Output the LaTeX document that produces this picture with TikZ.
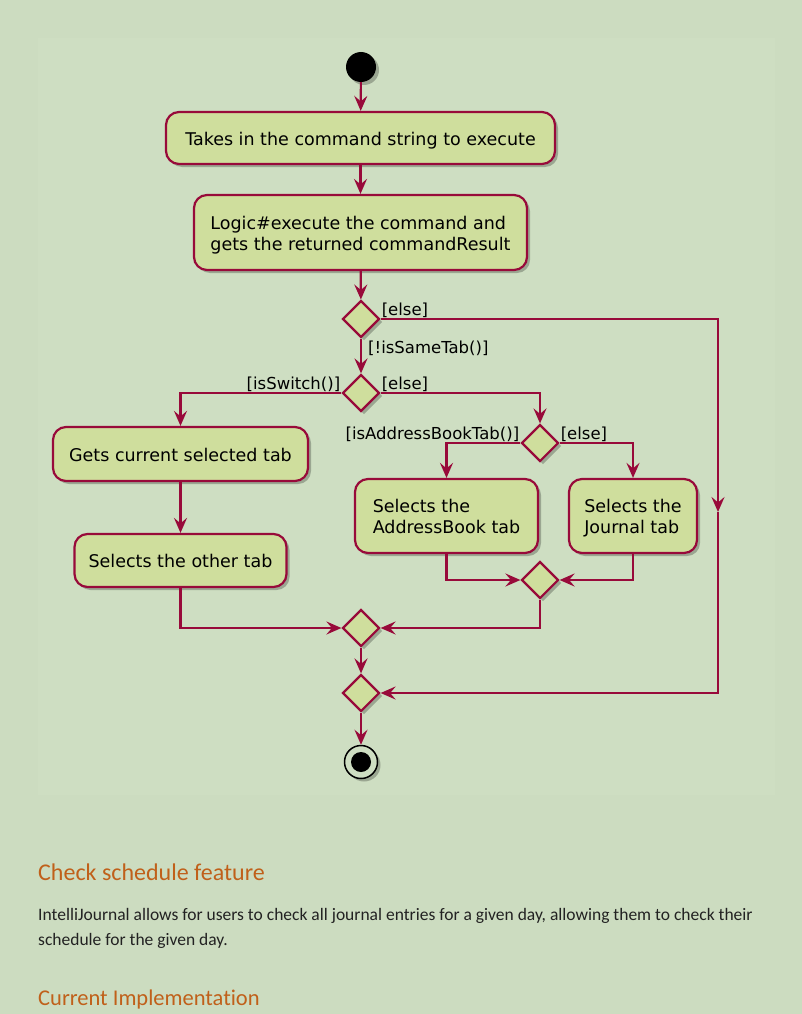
\documentclass[tikz,border=0pt]{standalone}
\usepackage{fontspec}
\setmainfont{DejaVu Sans}
\newfontfamily\docfont[Ligatures=NoCommon]{Carlito}
\usepackage{tikz}
\usetikzlibrary{positioning,shapes.geometric,shadows,arrows.meta,calc}
\definecolor{pagebg}{HTML}{CCDCC0}
\definecolor{panelbg}{HTML}{CEDEC2}
\definecolor{umlred}{HTML}{980A3A}
\definecolor{umlfill}{HTML}{CFDE9D}
\definecolor{headorange}{HTML}{C0601A}
\definecolor{bodytext}{HTML}{222222}
\newcommand{\acttext}[1]{\raisebox{-3pt}[\height][\depth]{\begin{tabular}{@{}l@{}}#1\end{tabular}}}
\tikzset{
	umlshadow/.style={drop shadow={shadow xshift=3pt,shadow yshift=-3pt,fill=black,opacity=0.25}},
	act/.style={draw=umlred, fill=umlfill, line width=2.2pt, rounded corners=13pt,
		font=\fontsize{17.5}{22}\selectfont, umlshadow, inner sep=0pt},
	choice/.style={diamond, draw=umlred, fill=umlfill, line width=2.2pt, aspect=1,
		minimum width=37pt, minimum height=37pt, inner sep=0pt, umlshadow},
	flow/.style={draw=umlred, line width=2.2pt, -{Stealth[length=15pt,width=13pt,inset=5.5pt]}},
	guard/.style={font=\fontsize{16.5}{18}\selectfont, inner sep=1pt, text=black}
}
\begin{document}
\begin{tikzpicture}[x=1pt, y=-1pt]
	\useasboundingbox (0,0) rectangle (802,1014);
	\fill[pagebg] (0,0) rectangle (802,1014);
	\fill[panelbg] (38,38) rectangle (775,795);
	% activity diagram
	\node[circle, fill=black, minimum size=30pt, inner sep=0pt, umlshadow] (start) at (361,67) {};
	\node[act, minimum width=389pt, minimum height=52pt] (takes) at (360.5,138) {\acttext{Takes in the command string to execute}};
	\node[act, minimum width=333pt, minimum height=75pt] (logic) at (360.5,232.5) {\acttext{Logic\#execute the command and\\[-1pt]gets the returned commandResult}};
	\node[choice] (sametab) at (361,319) {};
	\node[choice] (isswitch) at (361,393) {};
	\node[choice] (isaddr) at (540,443) {};
	\node[act, minimum width=255pt, minimum height=54pt] (getcur) at (180.5,454) {\acttext{Gets current selected tab}};
	\node[act, minimum width=212pt, minimum height=53pt] (selother) at (180.5,560.5) {\acttext{Selects the other tab}};
	\node[act, minimum width=183pt, minimum height=74pt] (seladdr) at (446.5,516) {\acttext{Selects the\\[-1pt]AddressBook tab}};
	\node[act, minimum width=128pt, minimum height=74pt] (seljour) at (633,516) {\acttext{Selects the\\[-1pt]Journal tab}};
	\node[choice] (mergetab) at (540,580) {};
	\node[choice] (mergeswitch) at (361,628) {};
	\node[choice] (mergeall) at (361,693) {};
	\node[circle, draw=black, line width=1.5pt, fill=panelbg, minimum size=33pt, inner sep=0pt, umlshadow] (stop) at (361,762) {};
	\fill[black] (stop) circle (10pt);
	\coordinate (elsedown) at (718,512);
	\draw[flow] (start) -- (takes);
	\draw[flow] (takes) -- (logic);
	\draw[flow] (logic) -- (sametab);
	\draw[flow] (sametab.east) -| (elsedown);
	\draw[flow] (elsedown) |- (mergeall.east);
	\draw[flow] (sametab) -- (isswitch);
	\draw[flow] (isswitch.west) -| (getcur.north);
	\draw[flow] (isswitch.east) -| (isaddr.north);
	\draw[flow] (isaddr.west) -| (seladdr.north);
	\draw[flow] (isaddr.east) -| (seljour.north);
	\draw[flow] (getcur) -- (selother);
	\draw[flow] (seladdr.south) |- (mergetab.west);
	\draw[flow] (seljour.south) |- (mergetab.east);
	\draw[flow] (selother.south) |- (mergeswitch.west);
	\draw[flow] (mergetab.south) |- (mergeswitch.east);
	\draw[flow] (mergeswitch) -- (mergeall);
	\draw[flow] (mergeall) -- (stop);
	\node[guard, anchor=south west] (g1) at (sametab.east) {[else]};
	\node[guard, anchor=west] (g2) at (367,348) {[!isSameTab()]};
	\node[guard, anchor=south east] (g3) at (isswitch.west) {[isSwitch()]};
	\node[guard, anchor=south west] (g4) at (isswitch.east) {[else]};
	\node[guard, anchor=south east] (g5) at (isaddr.west) {[isAddressBookTab()]};
	\node[guard, anchor=south west] (g6) at (isaddr.east) {[else]};
	% page text below
	\node[anchor=base west, inner sep=0pt, text=headorange, font=\docfont\fontsize{24}{26}\selectfont] (feature) at (38,880) {Check schedule feature};
	\node[anchor=base west, inner sep=0pt, text=bodytext, font=\docfont\fontsize{17.5}{25}\selectfont, align=left] (intro) at (38,945) {IntelliJournal allows for users to check all journal entries for a given day, allowing them to check their\\schedule for the given day.};
	\node[anchor=base west, inner sep=0pt, text=headorange, font=\docfont\fontsize{22.5}{26}\selectfont] (impl) at (38,1005) {Current Implementation};
\end{tikzpicture}
\end{document}
